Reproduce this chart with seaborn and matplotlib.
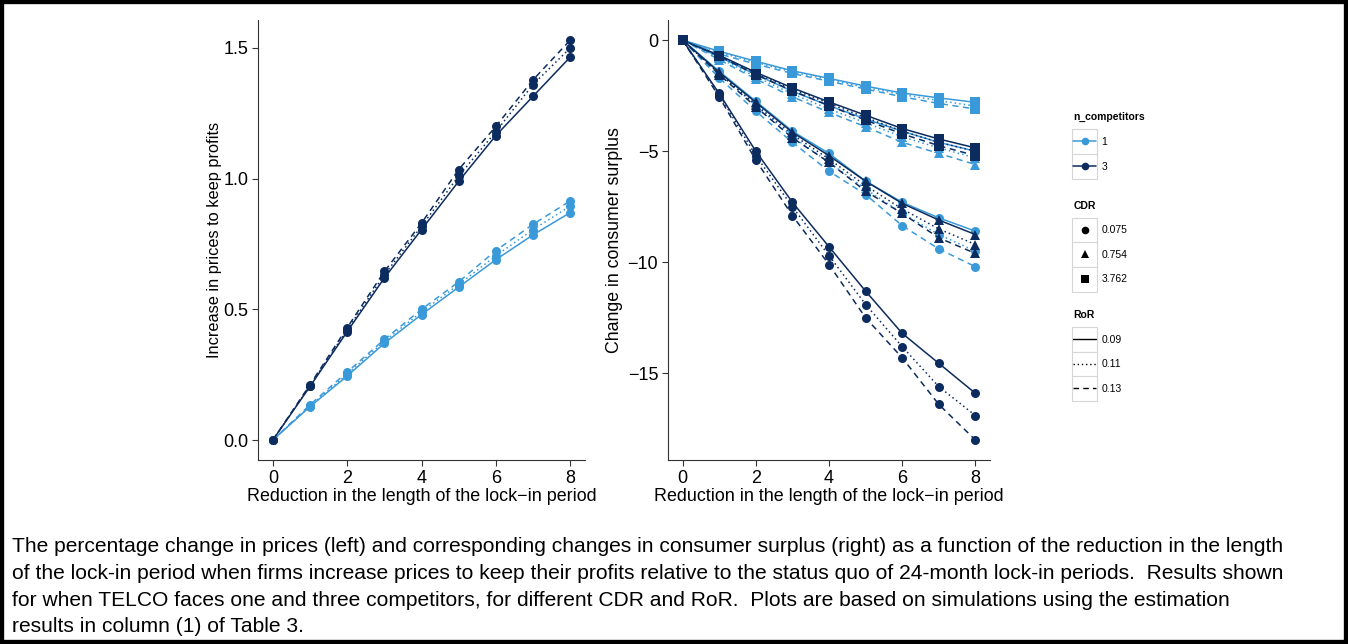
import numpy as np
import pandas as pd
import matplotlib
matplotlib.use("Agg")
import matplotlib.pyplot as plt
import seaborn as sns
from matplotlib.lines import Line2D
from matplotlib.patches import Rectangle

# reduction in lock-in length
reduction = [0, 1, 2, 3, 4, 5, 6, 7, 8]

# left panel: increase in prices to keep profits
price_n1_r09 = [0, 0.128, 0.245, 0.370, 0.480, 0.585, 0.690, 0.785, 0.870]
price_n1_r11 = [0, 0.130, 0.252, 0.378, 0.490, 0.595, 0.705, 0.805, 0.895]
price_n1_r13 = [0, 0.135, 0.260, 0.385, 0.500, 0.605, 0.725, 0.825, 0.915]
price_n3_r09 = [0, 0.205, 0.415, 0.620, 0.805, 0.990, 1.165, 1.315, 1.465]
price_n3_r11 = [0, 0.208, 0.422, 0.632, 0.818, 1.010, 1.180, 1.360, 1.500]
price_n3_r13 = [0, 0.212, 0.430, 0.645, 0.830, 1.035, 1.200, 1.378, 1.530]

# right panel: change in consumer surplus
cs_n1_c3762_r09 = [0, -0.50, -0.95, -1.38, -1.72, -2.07, -2.38, -2.60, -2.80]
cs_n1_c3762_r11 = [0, -0.55, -1.00, -1.43, -1.78, -2.13, -2.45, -2.72, -2.97]
cs_n1_c3762_r13 = [0, -0.62, -1.08, -1.50, -1.85, -2.20, -2.55, -2.85, -3.10]
cs_n3_c3762_r09 = [0, -0.68, -1.45, -2.15, -2.78, -3.38, -3.98, -4.45, -4.85]
cs_n3_c3762_r11 = [0, -0.70, -1.50, -2.20, -2.85, -3.48, -4.10, -4.60, -5.00]
cs_n3_c3762_r13 = [0, -0.72, -1.55, -2.28, -2.95, -3.60, -4.22, -4.75, -5.20]
cs_n1_c0754_r09 = [0, -0.75, -1.55, -2.30, -2.95, -3.55, -4.10, -4.60, -5.00]
cs_n1_c0754_r11 = [0, -0.80, -1.65, -2.42, -3.10, -3.72, -4.35, -4.85, -5.30]
cs_n1_c0754_r13 = [0, -0.88, -1.75, -2.55, -3.25, -3.90, -4.60, -5.10, -5.60]
cs_n3_c0754_r09 = [0, -1.45, -2.80, -4.15, -5.20, -6.35, -7.35, -8.10, -8.75]
cs_n3_c0754_r11 = [0, -1.50, -2.90, -4.25, -5.35, -6.55, -7.60, -8.50, -9.20]
cs_n3_c0754_r13 = [0, -1.55, -3.00, -4.40, -5.50, -6.80, -7.80, -8.90, -9.60]
cs_n1_c0075_r09 = [0, -1.40, -2.75, -4.10, -5.10, -6.35, -7.30, -8.00, -8.60]
cs_n1_c0075_r11 = [0, -1.50, -2.95, -4.35, -5.50, -6.70, -7.80, -8.75, -9.50]
cs_n1_c0075_r13 = [0, -1.70, -3.20, -4.60, -5.90, -6.95, -8.35, -9.40, -10.20]
cs_n3_c0075_r09 = [0, -2.40, -5.00, -7.30, -9.30, -11.30, -13.20, -14.55, -15.90]
cs_n3_c0075_r11 = [0, -2.45, -5.20, -7.50, -9.70, -11.90, -13.80, -15.60, -16.90]
cs_n3_c0075_r13 = [0, -2.55, -5.40, -7.90, -10.10, -12.50, -14.30, -16.40, -18.00]

n_competitors = ["1", "3"]
cdr_levels = ["0.075", "0.754", "3.762"]
ror_levels = ["0.09", "0.11", "0.13"]

price_series = {
    ("1", "0.09"): price_n1_r09, ("1", "0.11"): price_n1_r11, ("1", "0.13"): price_n1_r13,
    ("3", "0.09"): price_n3_r09, ("3", "0.11"): price_n3_r11, ("3", "0.13"): price_n3_r13,
}
cs_series = {
    ("1", "3.762", "0.09"): cs_n1_c3762_r09, ("1", "3.762", "0.11"): cs_n1_c3762_r11,
    ("1", "3.762", "0.13"): cs_n1_c3762_r13, ("3", "3.762", "0.09"): cs_n3_c3762_r09,
    ("3", "3.762", "0.11"): cs_n3_c3762_r11, ("3", "3.762", "0.13"): cs_n3_c3762_r13,
    ("1", "0.754", "0.09"): cs_n1_c0754_r09, ("1", "0.754", "0.11"): cs_n1_c0754_r11,
    ("1", "0.754", "0.13"): cs_n1_c0754_r13, ("3", "0.754", "0.09"): cs_n3_c0754_r09,
    ("3", "0.754", "0.11"): cs_n3_c0754_r11, ("3", "0.754", "0.13"): cs_n3_c0754_r13,
    ("1", "0.075", "0.09"): cs_n1_c0075_r09, ("1", "0.075", "0.11"): cs_n1_c0075_r11,
    ("1", "0.075", "0.13"): cs_n1_c0075_r13, ("3", "0.075", "0.09"): cs_n3_c0075_r09,
    ("3", "0.075", "0.11"): cs_n3_c0075_r11, ("3", "0.075", "0.13"): cs_n3_c0075_r13,
}

rows = []
for (n, r), vals in price_series.items():
    for x, v in zip(reduction, vals):
        rows.append({"x": x, "y": v, "n": n, "RoR": r})
df_price = pd.DataFrame(rows)

rows = []
for (n, c, r), vals in cs_series.items():
    for x, v in zip(reduction, vals):
        rows.append({"x": x, "y": v, "n": n, "CDR": c, "RoR": r})
df_cs = pd.DataFrame(rows)

palette = {"1": "#3a9ad9", "3": "#0c2b5e"}
markers = {"0.075": "o", "0.754": "^", "3.762": "s"}
dash_styles = {"0.09": "-", "0.11": (0, (1, 2)), "0.13": (0, (4, 3))}

sns.set_style("ticks")
plt.rcParams["font.family"] = ["Liberation Sans", "DejaVu Sans"]
plt.rcParams["text.color"] = "black"
plt.rcParams["axes.labelcolor"] = "black"
plt.rcParams["xtick.color"] = "black"
plt.rcParams["ytick.color"] = "black"

fig = plt.figure(figsize=(13.48, 6.44), dpi=100)
ax1 = fig.add_axes([0.1914, 0.2857, 0.2426, 0.683])
ax2 = fig.add_axes([0.4955, 0.2857, 0.2390, 0.683])

for r in ror_levels:
    sub = df_price[df_price["RoR"] == r]
    sns.lineplot(data=sub, x="x", y="y", hue="n", palette=palette, marker="o",
                 markersize=6.5, markeredgewidth=0, linestyle=dash_styles[r],
                 linewidth=1.1, legend=False, ax=ax1)

for c in cdr_levels:
    for r in ror_levels:
        sub = df_cs[(df_cs["CDR"] == c) & (df_cs["RoR"] == r)]
        sns.lineplot(data=sub, x="x", y="y", hue="n", palette=palette, marker=markers[c],
                     markersize=6.5, markeredgewidth=0, linestyle=dash_styles[r],
                     linewidth=1.1, legend=False, ax=ax2)

ax1.set_xlim(-0.4, 8.4)
ax1.set_ylim(-0.0765, 1.6065)
ax1.set_yticks([0.0, 0.5, 1.0, 1.5])
ax1.set_yticklabels(["0.0", "0.5", "1.0", "1.5"])
ax2.set_xlim(-0.4, 8.4)
ax2.set_ylim(-18.9, 0.9)
ax2.set_yticks([0, -5, -10, -15])

for ax in (ax1, ax2):
    ax.set_xticks([0, 2, 4, 6, 8])
    sns.despine(ax=ax)
    ax.spines["left"].set_color("#333333")
    ax.spines["bottom"].set_color("#333333")
    ax.tick_params(labelsize=13, length=4, width=0.8, color="#333333", pad=3)
    ax.set_xlabel("Reduction in the length of the lock\u2212in period", fontsize=12.9, labelpad=1)

ax1.set_ylabel("Increase in prices to keep profits", fontsize=11.8, labelpad=1)
ax2.set_ylabel("Change in consumer surplus", fontsize=12.8, labelpad=3)

# legends
h_n = [Line2D([], [], color=palette[n], marker="o", markersize=5.5, markeredgewidth=0, lw=1.1)
       for n in n_competitors]
h_c = [Line2D([], [], color="black", marker=markers[c], markersize=5.5, markeredgewidth=0, lw=0)
       for c in cdr_levels]
h_r = [Line2D([], [], color="black", linestyle=dash_styles[r], lw=1.0) for r in ror_levels]

leg_kw = dict(frameon=False, fontsize=7.5, title_fontsize=7.5, handlelength=2.2,
              labelspacing=1.4, handletextpad=0.5, alignment="left", borderaxespad=0)
legends = []
for handles, labels, title, ytop in [(h_n, n_competitors, "n_competitors", 0.832),
                                     (h_c, cdr_levels, "CDR", 0.695),
                                     (h_r, ror_levels, "RoR", 0.525)]:
    leg = fig.legend(handles, labels, title=title, loc="upper left",
                     bbox_to_anchor=(0.793, ytop), **leg_kw)
    leg.get_title().set_fontweight("bold")
    legends.append(leg)

# grey key boxes like ggplot legend keys
fig.canvas.draw()
renderer = fig.canvas.get_renderer()
to_fig = fig.transFigure.inverted()
key_w, key_h = 25, 25.3
for leg in legends:
    for ln, txt in zip(leg.get_lines(), leg.get_texts()):
        tb = txt.get_window_extent(renderer)
        lb = ln.get_window_extent(renderer)
        cx = (lb.x0 + lb.x1) / 2
        cy = (tb.y0 + tb.y1) / 2
        (x0, y0) = to_fig.transform((cx - key_w / 2, cy - key_h / 2))
        (x1, y1) = to_fig.transform((cx + key_w / 2, cy + key_h / 2))
        fig.patches.append(Rectangle((x0, y0), x1 - x0, y1 - y0, transform=fig.transFigure,
                                     facecolor="white", edgecolor="#d6d6d6", linewidth=0.8,
                                     zorder=0))

caption = [
    "The percentage change in prices (left) and corresponding changes in consumer surplus (right) as a function of the reduction in the length",
    "of the lock-in period when firms increase prices to keep their profits relative to the status quo of 24-month lock-in periods.  Results shown",
    "for when TELCO faces one and three competitors, for different CDR and RoR.  Plots are based on simulations using the estimation",
    "results in column (1) of Table 3.",
]
for i, line in enumerate(caption):
    fig.text(12 / 1348, 1 - (547 + 26.5 * i) / 644, line, fontsize=15.1, va="center", ha="left")

fig.patches.append(Rectangle((0, 0), 1, 1, transform=fig.transFigure, fill=False,
                             edgecolor="black", linewidth=6, zorder=10))

fig.savefig("out.png", dpi=100)
